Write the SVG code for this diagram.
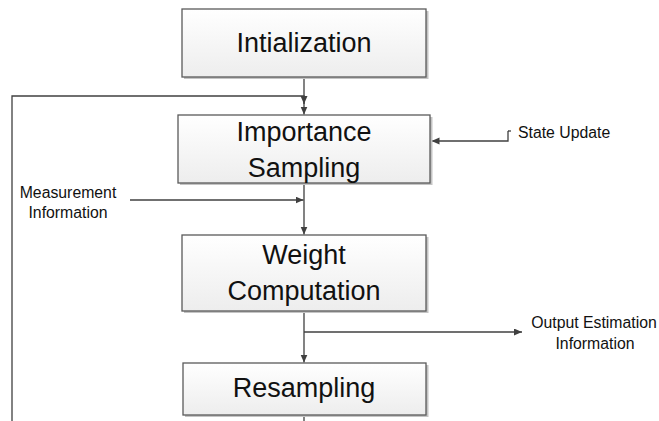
<svg xmlns="http://www.w3.org/2000/svg" width="659" height="421" viewBox="0 0 659 421">
<defs>
<linearGradient id="g" x1="0" y1="0" x2="0" y2="1">
<stop offset="0" stop-color="#ffffff"/>
<stop offset="1" stop-color="#ededed"/>
</linearGradient>
<marker id="ah" markerUnits="userSpaceOnUse" markerWidth="9" markerHeight="8" refX="8" refY="3.5" orient="auto">
<path d="M0,0 L8,3.5 L0,7 z" fill="#404040"/>
</marker>
<style>
.box{fill:url(#g);stroke:#5a5a5a;stroke-width:1.3}
.sh{fill:#c4c4c4}
.big{font-family:"Liberation Sans",Arial,sans-serif;font-size:27px;fill:#111;text-anchor:middle}
.sm{font-family:"Liberation Sans",Arial,sans-serif;font-size:15.8px;fill:#111}
.ln{fill:none;stroke:#404040;stroke-width:1.3}
</style>
</defs>
<rect width="659" height="421" fill="#ffffff"/>
<g id="connectors">
<path class="ln" d="M304,77 V114.5" marker-end="url(#ah)"/>
<path class="ln" d="M12,421 V96 H304 V104" marker-end="url(#ah)"/>
<path class="ln" d="M508,131 V141 H431.5" marker-end="url(#ah)"/>
<path class="ln" d="M508,131 H511"/>
<path class="ln" d="M130,200 H303.5" marker-end="url(#ah)"/>
<path class="ln" d="M304,183 V234.5" marker-end="url(#ah)"/>
<path class="ln" d="M304,311 V362.5" marker-end="url(#ah)"/>
<path class="ln" d="M304,332 H522" marker-end="url(#ah)"/>
<path class="ln" d="M304,415 V421"/>
</g>
<g id="init">
<rect class="sh" x="184" y="11" width="244.5" height="68"/>
<rect class="box" x="182" y="9" width="244" height="68"/>
<text class="big" x="304" y="52">Intialization</text>
</g>
<g id="importance">
<rect class="sh" x="180" y="117" width="252.5" height="68"/>
<rect class="box" x="178" y="115" width="252" height="68"/>
<text class="big" x="304" y="141">Importance</text>
<text class="big" x="304" y="177">Sampling</text>
</g>
<g id="weight">
<rect class="sh" x="184" y="237" width="244.5" height="76"/>
<rect class="box" x="182" y="235" width="244" height="76"/>
<text class="big" x="304" y="264">Weight</text>
<text class="big" x="304" y="300">Computation</text>
</g>
<g id="resampling">
<rect class="sh" x="185" y="365" width="243.5" height="52"/>
<rect class="box" x="183" y="363" width="243" height="52"/>
<text class="big" x="304" y="397">Resampling</text>
</g>
<g id="measurement">
<text class="sm" x="68" y="198" text-anchor="middle">Measurement</text>
<text class="sm" x="68" y="218" text-anchor="middle">Information</text>
</g>
<g id="state">
<text class="sm" x="518" y="138">State Update</text>
</g>
<g id="output">
<text class="sm" x="594" y="328" text-anchor="middle">Output Estimation</text>
<text class="sm" x="595" y="349" text-anchor="middle">Information</text>
</g>
</svg>
